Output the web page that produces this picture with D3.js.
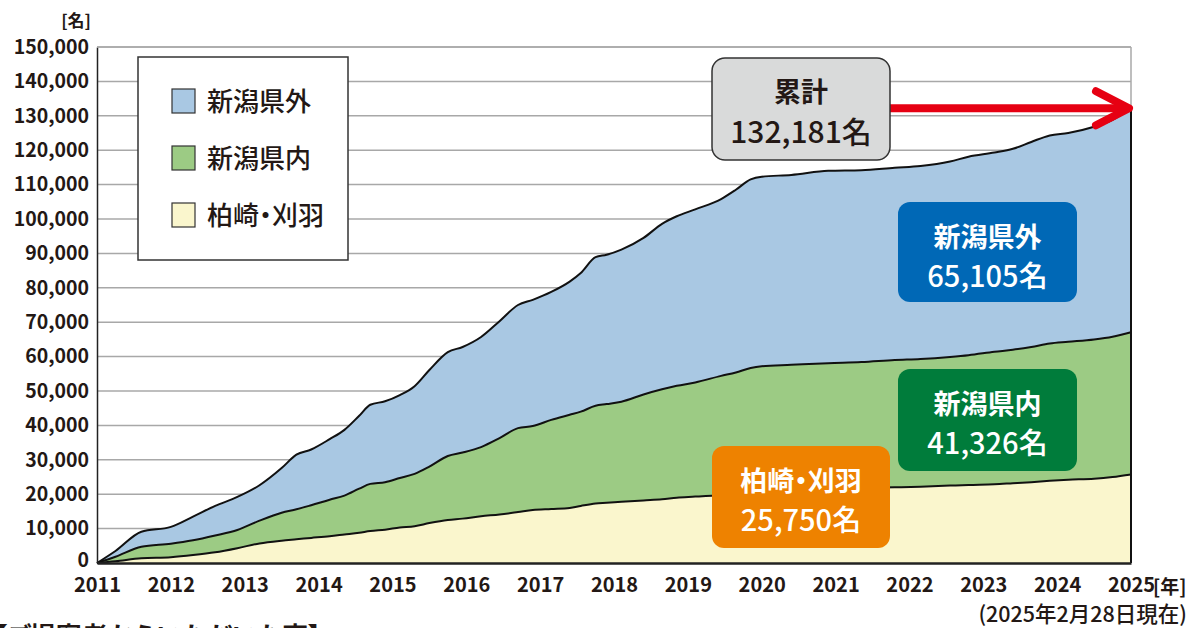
<!DOCTYPE html>
<html lang="ja">
<head>
<meta charset="utf-8">
<title>累計</title>
<script src="https://cdn.jsdelivr.net/npm/d3@7"></script>
<style>
  body { margin: 0; background: #fff; }
  svg text { font-family: "Noto Sans CJK JP", "Noto Sans", sans-serif; fill: #231815; font-feature-settings: "palt"; }
</style>
</head>
<body>
<script>
// time points (fractional years)
const years = [2011.0, 2011.25, 2011.6, 2012.0, 2012.3, 2012.6, 2012.9, 2013.2, 2013.5, 2013.7,
  2013.9, 2014.15, 2014.35, 2014.55, 2014.7, 2014.9, 2015.1, 2015.3, 2015.5, 2015.75,
  2015.95, 2016.2, 2016.45, 2016.7, 2016.9, 2017.15, 2017.4, 2017.55, 2017.75, 2017.9,
  2018.1, 2018.4, 2018.65, 2018.85, 2019.1, 2019.45, 2019.65, 2019.85, 2020.0, 2020.4,
  2020.9, 2021.35, 2021.8, 2022.15, 2022.55, 2022.8, 2023.15, 2023.4, 2023.65, 2023.9,
  2024.15, 2024.5, 2024.75, 2025.0];

// 柏崎・刈羽
const kashiwazaki = [0, 500, 1400, 1700, 2300, 3100, 4300, 5700, 6500, 6900,
  7300, 7800, 8300, 8800, 9300, 9700, 10300, 10700, 11600, 12500,
  12900, 13600, 14100, 14800, 15400, 15700, 16000, 16600, 17300, 17500,
  17800, 18200, 18500, 19000, 19300, 19800, 20200, 20600, 20800, 21200,
  21600, 21800, 22000, 22200, 22500, 22700, 22900, 23200, 23500, 23900,
  24200, 24500, 25000, 25750];

// 新潟県内
const kennai = [0, 1300, 3300, 3900, 4300, 4900, 5300, 6600, 8100, 8700,
  9500, 10600, 11300, 12800, 13700, 13800, 14400, 15200, 16400, 18600,
  19200, 20100, 22200, 24400, 24400, 25900, 27100, 27400, 28400, 28700,
  29100, 30800, 32000, 32500, 33200, 34600, 35200, 36100, 36400, 36400,
  36500, 36600, 37000, 37100, 37400, 37700, 38500, 38800, 39300, 39900,
  40100, 40500, 40800, 41326];

// 新潟県外
const kengai = [0, 1700, 4400, 4900, 6900, 8600, 9600, 10300, 13000, 15900,
  16200, 17600, 19100, 21200, 23000, 23500, 24100, 25500, 28100, 30200,
  30700, 32000, 34000, 35800, 36700, 37200, 38700, 40300, 43200, 43400,
  44200, 45500, 48100, 49300, 50300, 51400, 53100, 54800, 55100, 55200,
  55900, 55800, 55900, 56100, 56800, 57700, 57900, 58400, 59600, 60500,
  60700, 61800, 63000, 65105];

const seriesKeys = ["kashiwazaki", "kennai", "kengai"];
const seriesNames = ["柏崎・刈羽", "新潟県内", "新潟県外"];
const seriesColors = ["#faf6cd", "#9ccb84", "#a9c8e3"];
const boxColors = ["#ee8200", "#007c3b", "#0068b6"];
const totals = ["25,750名", "41,326名", "65,105名"];
const yearTicks = d3.range(2011, 2026);
const valueTicks = d3.range(0, 150001, 10000);

const w = 1189, h = 628;
const margin = {left: 97, right: 58, top: 47, bottom: 65};

const svg = d3.select("body").append("svg")
  .attr("width", w).attr("height", h);

const x = d3.scaleLinear().domain([2011, 2025]).range([margin.left, w - margin.right]);
const y = d3.scaleLinear().domain([0, 150000]).range([h - margin.bottom, margin.top]);

const rows = years.map((t, i) => ({
  t: t, kashiwazaki: kashiwazaki[i], kennai: kennai[i], kengai: kengai[i]
}));
const stacked = d3.stack().keys(seriesKeys)(rows);

// grid
svg.append("g").selectAll("line")
  .data(valueTicks.slice(1))
  .join("line")
  .attr("x1", x(2011)).attr("x2", x(2025))
  .attr("y1", d => y(d)).attr("y2", d => y(d))
  .attr("stroke", "#a8a8a8").attr("stroke-width", 1.5);

// right border
svg.append("line")
  .attr("x1", x(2025)).attr("x2", x(2025))
  .attr("y1", y(150000)).attr("y2", y(0))
  .attr("stroke", "#a8a8a8").attr("stroke-width", 1.5);

// areas
const area = d3.area()
  .curve(d3.curveMonotoneX)
  .x(d => x(d.data.t))
  .y0(d => y(d[0]))
  .y1(d => y(d[1]));
svg.append("g").selectAll("path")
  .data(stacked)
  .join("path")
  .attr("d", area)
  .attr("fill", (d, i) => seriesColors[i]);

const topLine = d3.line()
  .curve(d3.curveMonotoneX)
  .x(d => x(d.data.t))
  .y(d => y(d[1]));
svg.append("g").selectAll("path")
  .data(stacked)
  .join("path")
  .attr("d", topLine)
  .attr("fill", "none")
  .attr("stroke", "#111")
  .attr("stroke-width", 2)
  .attr("stroke-linejoin", "round");

// right edge of stack
svg.append("line")
  .attr("x1", x(2025)).attr("x2", x(2025))
  .attr("y1", y(0)).attr("y2", y(d3.sum([kashiwazaki, kennai, kengai], a => a[a.length - 1])))
  .attr("stroke", "#111").attr("stroke-width", 2);

// axes
const yAxis = svg.append("g")
  .attr("transform", `translate(${margin.left},0)`)
  .call(d3.axisLeft(y).tickValues(valueTicks).tickFormat(d3.format(",")).tickSize(0).tickPadding(8));
yAxis.select(".domain").attr("stroke", "#222").attr("stroke-width", 1.5);
yAxis.selectAll("text")
  .attr("font-size", 19.5).attr("font-weight", 700)
  .style("font-family", '"Noto Sans CJK JP", sans-serif')
  .attr("fill", "#231815");
// lift the zero label a little so it clears the year labels
yAxis.selectAll(".tick").filter(d => d === 0).select("text").attr("dy", "0.2em");

const xAxis = svg.append("g")
  .attr("transform", `translate(0,${y(0)})`)
  .call(d3.axisBottom(x).tickValues(yearTicks).tickFormat(d3.format("d")).tickSize(0).tickPadding(15));
xAxis.select(".domain").attr("stroke", "#222").attr("stroke-width", 2.5);
xAxis.selectAll("text")
  .attr("font-size", 20).attr("font-weight", 700)
  .style("font-family", '"Noto Sans CJK JP", sans-serif')
  .attr("fill", "#231815");

// top border
svg.append("line")
  .attr("x1", x(2011)).attr("x2", x(2025))
  .attr("y1", y(150000)).attr("y2", y(150000))
  .attr("stroke", "#a8a8a8").attr("stroke-width", 1.5);

// unit labels
svg.append("text").attr("x", 91).attr("y", 27).attr("text-anchor", "end")
  .attr("font-size", 17).attr("font-weight", 700).text("[名]");
svg.append("text").attr("x", x(2025) + 22).attr("y", 594)
  .attr("font-size", 19).attr("font-weight", 700).text("[年]");
svg.append("text").attr("x", 1187).attr("y", 622).attr("text-anchor", "end")
  .attr("font-size", 21.5).attr("font-weight", 500).text("(2025年2月28日現在)");

// cut-off caption at the bottom edge
svg.append("text").attr("x", -6).attr("y", 646)
  .attr("font-size", 26).attr("font-weight", 700).text("【ご提案者からいただいた声】");

// legend
const legend = svg.append("g").attr("transform", "translate(138,57)");
legend.append("rect").attr("width", 210).attr("height", 203)
  .attr("fill", "#fff").attr("stroke", "#333").attr("stroke-width", 1.5);
const order = [2, 1, 0];
order.forEach((k, i) => {
  const g = legend.append("g").attr("transform", `translate(34,${32 + i * 57})`);
  g.append("rect").attr("width", 23).attr("height", 24)
    .attr("fill", seriesColors[k]).attr("stroke", "#333").attr("stroke-width", 1.2);
  g.append("text").attr("x", 35).attr("y", 22)
    .attr("font-size", 26).attr("font-weight", 500).text(seriesNames[k]);
});

// labelled boxes
const boxes = [
  {k: 2, x: 898, y: 202, w: 179, h: 100},
  {k: 1, x: 898, y: 369, w: 179, h: 102},
  {k: 0, x: 712, y: 446, w: 178, h: 102}
];
boxes.forEach(b => {
  const g = svg.append("g");
  g.append("rect").attr("x", b.x).attr("y", b.y).attr("width", b.w).attr("height", b.h)
    .attr("rx", 12).attr("fill", boxColors[b.k]);
  g.append("text").attr("x", b.x + b.w / 2).attr("y", b.y + 45)
    .attr("text-anchor", "middle").attr("font-size", 27).attr("font-weight", 700)
    .style("fill", "#fff").text(seriesNames[b.k]);
  g.append("text").attr("x", b.x + b.w / 2).attr("y", b.y + 85)
    .attr("text-anchor", "middle").attr("font-size", 29).attr("font-weight", 500)
    .style("fill", "#fff").text(totals[b.k]);
});

// total annotation
const total = kashiwazaki[kashiwazaki.length - 1] + kennai[kennai.length - 1] + kengai[kengai.length - 1];
svg.append("line")
  .attr("x1", 889).attr("x2", x(2025) - 4)
  .attr("y1", y(total)).attr("y2", y(total))
  .attr("stroke", "#e60012").attr("stroke-width", 8);
svg.append("path")
  .attr("d", `M${x(2025) - 35},${y(total) - 17}L${x(2025) - 2},${y(total)}L${x(2025) - 35},${y(total) + 17}`)
  .attr("fill", "none").attr("stroke", "#e60012").attr("stroke-width", 8)
  .attr("stroke-linecap", "round").attr("stroke-linejoin", "round");

const tg = svg.append("g");
tg.append("rect").attr("x", 712).attr("y", 58).attr("width", 178).attr("height", 102)
  .attr("rx", 13).attr("fill", "#d9dada").attr("stroke", "#333").attr("stroke-width", 1.5);
tg.append("text").attr("x", 801).attr("y", 102).attr("text-anchor", "middle")
  .attr("font-size", 27).attr("font-weight", 700).text("累計");
tg.append("text").attr("x", 801).attr("y", 143).attr("text-anchor", "middle")
  .attr("font-size", 30).attr("font-weight", 500).text(d3.format(",")(total) + "名");
</script>
</body>
</html>
